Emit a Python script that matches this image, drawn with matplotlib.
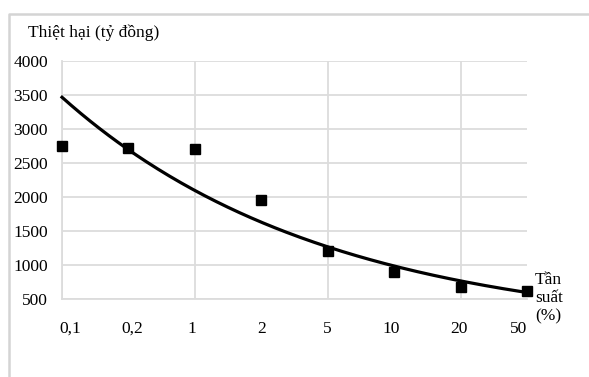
import numpy as np
import matplotlib.pyplot as plt
from matplotlib.lines import Line2D

plt.rcParams['font.family'] = ['Liberation Serif', 'DejaVu Serif']

tan_suat = ['0,1', '0,2', '1', '2', '5', '10', '20', '50']
thiet_hai = [2750, 2720, 2700, 1960, 1210, 900, 680, 620]

x = np.arange(len(tan_suat))

# exponential trendline (like Excel) fitted on the points
k, b = np.polyfit(x, np.log(thiet_hai), 1)
xs = np.linspace(0, len(tan_suat) - 1, 200)
ys = np.exp(b + k * xs)

fig = plt.figure(figsize=(5.89, 3.77), dpi=100)
ax = fig.add_axes([0.1053, 0.2069, 0.7894, 0.6313])

ax.plot(xs, ys, color='black', lw=2.3, zorder=3, clip_on=False)
ax.plot(x, thiet_hai, 's', color='black', markersize=7.8, zorder=4, clip_on=False)

ax.set_xlim(0, len(tan_suat) - 1)
ax.set_ylim(500, 4000)
ax.set_yticks(range(500, 4001, 500))
ax.set_xticks([0, 2, 4, 6])
ax.set_xticklabels([])
ax.grid(True, color='#dcdcdc', lw=1.3)
ax.tick_params(length=0, labelsize=12.5, pad=10)
for s in ['top', 'right']:
    ax.spines[s].set_visible(False)
ax.spines['left'].set_color('#dcdcdc')
ax.spines['bottom'].set_color('#dcdcdc')
ax.spines['left'].set_linewidth(1.3)
ax.spines['bottom'].set_linewidth(1.3)

label_pos = [0.13, 1.06, 1.96, 3.0, 4.0, 4.95, 5.98, 6.88]
for p, t in zip(label_pos, tan_suat):
    ax.text(p, 60, t, ha='center', va='center', fontsize=12.5)

fig.text(28 / 589, 1 - 33 / 377, 'Thiệt hại (tỷ đồng)', fontsize=12.5, va='center', ha='left')
fig.text(535 / 589, 1 - 298 / 377, 'Tần\nsuất\n(%)', fontsize=12.5, va='center', ha='left',
         linespacing=1.2)

# outer chart frame: only top and left edges show in the crop
fig.lines.append(Line2D([8.5 / 589, 8.5 / 589, 1], [0, 1 - 13.5 / 377, 1 - 13.5 / 377],
                        transform=fig.transFigure, color='#d4d4d4', lw=1.8))

fig.savefig('out.png', dpi=100)
